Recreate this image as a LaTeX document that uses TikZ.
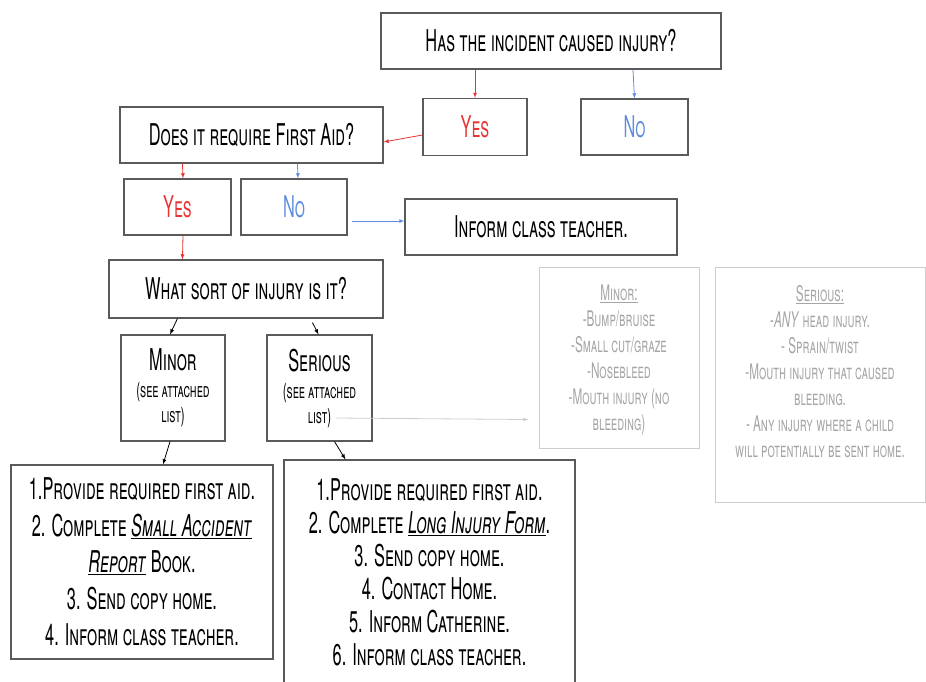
\documentclass[tikz,border=0pt]{standalone}
\usepackage{fontspec}
\setmainfont{TeX Gyre Heros}[FakeStretch=0.545]
\usetikzlibrary{calc}
\definecolor{yesred}{RGB}{232,52,52}
\definecolor{noblue}{RGB}{95,140,222}
\definecolor{boxgrey}{RGB}{90,90,90}
\definecolor{listgrey}{RGB}{205,205,205}
\definecolor{listtext}{RGB}{165,165,165}
\newcommand{\bigfont}{\fontsize{30}{33}\selectfont\scshape}
\newcommand{\smallfont}{\fontsize{20.8}{25}\selectfont\scshape}
\begin{document}
\begin{tikzpicture}[x=1pt,y=-1pt,
  box/.style={draw=boxgrey,line width=1.1pt,inner sep=2pt,align=center,font=\bigfont},
  greybox/.style={draw=listgrey,line width=1pt},
  greytext/.style={text=listtext,align=center,font=\fontsize{21.5}{26}\selectfont\scshape},
  redline/.style={draw=yesred,line width=0.8pt,-latex},
  blueline/.style={draw=noblue,line width=0.8pt,-latex}]
\useasboundingbox (0,0) rectangle (926,681);
\node (q1) at (551,41) [box,minimum width=340pt,minimum height=56pt] {Has the incident caused injury?};
\node (yes1) at (475,127) [box,minimum width=104pt,minimum height=57pt,text=yesred] {Yes};
\node (no1) at (634.5,127) [box,minimum width=107pt,minimum height=56pt,text=noblue] {No};
\node (q2) at (251.5,135) [box,minimum width=263pt,minimum height=56pt] {Does it require First Aid?};
\node (yes2) at (177.5,207) [box,minimum width=107pt,minimum height=56pt,text=yesred] {Yes};
\node (no2) at (294,207) [box,minimum width=106pt,minimum height=56pt,text=noblue] {No};
\node (inform) at (541,227) [box,minimum width=272pt,minimum height=56pt] {Inform class teacher.};
\node (q3) at (246,289) [box,minimum width=274pt,minimum height=58pt] {What sort of injury is it?};
\node (minor) at (173,388) [box,minimum width=104pt,minimum height=106pt]
  {Minor\\[-6pt]{\smallfont (see attached}\\[-8pt]{\smallfont list)}};
\node (serious) at (319.5,388) [box,minimum width=105pt,minimum height=106pt]
  {Serious\\[-6pt]{\smallfont (see attached}\\[-8pt]{\smallfont list)}};
\node (minlist) at (619,357.5) [greybox,minimum width=160pt,minimum height=181pt] {};
\node (minlisttext) [greytext,anchor=north] at ($(minlist.north)+(0,15)$)
  {\underline{Minor:}\\ -Bump/bruise\\ -Small cut/graze\\ -Nosebleed\\ -Mouth injury (no\\ bleeding)};
\node (serlist) at (820,384.5) [greybox,minimum width=210pt,minimum height=235pt] {};
\node (serlisttext) [greytext,anchor=north] at ($(serlist.north)+(0,15)$)
  {\underline{Serious:}\\ -\textit{ANY} head injury.\\ - Sprain/twist\\ -Mouth injury that caused\\ bleeding.\\ - Any injury where a child\\ will potentially be sent home.};
\node (minsteps) at (142,562) [box,minimum width=262pt,minimum height=194pt,font=\fontsize{30}{36.5}\selectfont\scshape]
  {1.Provide required first aid.\\ 2. Complete \underline{\textit{Small Accident}}\\ \underline{\textit{Report}} Book.\\ 3. Send copy home.\\ 4. Inform class teacher.};
\node (sersteps) at (429.5,572) [box,minimum width=291pt,minimum height=224pt]
  {1.Provide required first aid.\\ 2. Complete \underline{\textit{Long Injury Form}}.\\ 3. Send copy home.\\ 4. Contact Home.\\ 5. Inform Catherine.\\ 6. Inform class teacher.};
\draw[redline] (yes1 |- q1.south) -- (yes1.north);
\draw[blueline] ($(q1.south)+(82,0)$) -- (no1.north);
\draw[redline] ($(yes1.west)+(0,8)$) -- ($(q2.east)+(0,7)$);
\draw[redline] ($(q2.south west)+(63,0)$) -- ($(yes2.north)+(5.5,0)$);
\draw[blueline] ($(q2.south west)+(178,0)$) -- ($(no2.north)+(4,0)$);
\draw[blueline] ($(no2.east)+(4,14)$) -- ($(inform.west)+(0,-6)$);
\draw[redline] ($(yes2.south)+(5.5,0)$) -- ($(q3.north west)+(74,0)$);
\draw[-latex,line width=0.8pt] ($(q3.south west)+(69,0)$) -- ($(minor.north)+(-3,0)$);
\draw[-latex,line width=0.8pt] ($(q3.south west)+(204,4)$) -- ($(serious.north)+(-1,0)$);
\draw[-latex,line width=0.8pt,draw=listgrey] ($(serious.center)+(16,30)$) -- ($(minlist.west)+(-10,62)$);
\draw[-latex,line width=0.8pt] ($(minor.south)+(-3,0)$) -- ($(minsteps.north)+(21,0)$);
\draw[-latex,line width=0.8pt] ($(serious.south)+(15,0)$) -- ($(sersteps.north)+(-84,0)$);
\end{tikzpicture}
\end{document}
